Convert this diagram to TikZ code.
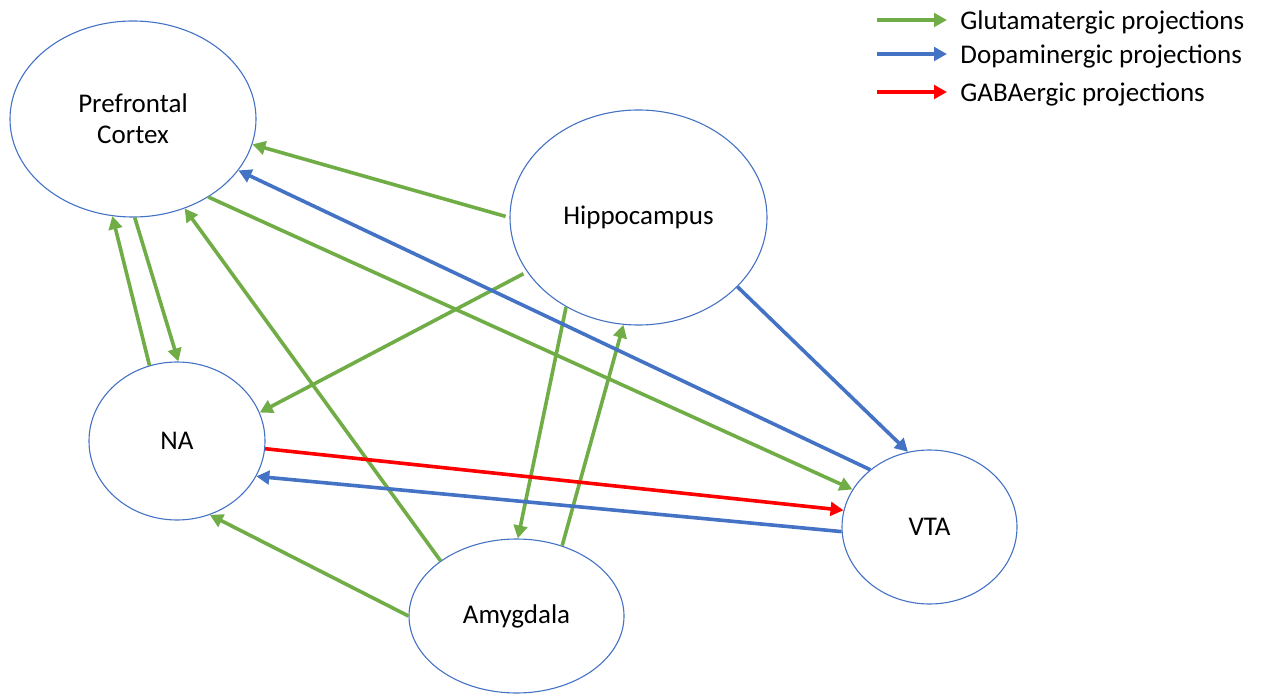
\documentclass[tikz,border=0pt]{standalone}
\usepackage{fontspec}
\setmainfont{Carlito}
\usepackage{xcolor}
\usetikzlibrary{arrows.meta,positioning,shapes.geometric}
\definecolor{glu}{RGB}{112,173,71}
\definecolor{dop}{RGB}{68,114,196}
\definecolor{gab}{RGB}{255,0,0}
\tikzset{
  bx/.style={x=0.5pt, y=-0.5pt, font=\fontsize{13.5}{15.5}\selectfont},
  b area/.style={draw=dop, line width=0.55pt, ellipse, inner sep=0pt, align=center},
  p arr/.style={line width=1.8pt, -{Triangle[length=6.5pt, width=6.8pt]}},
  p glu/.style={p arr, glu},
  p dop/.style={p arr, dop},
  p gab/.style={p arr, gab},
  k text/.style={anchor=west, inner sep=0pt},
}
\begin{document}
\begin{tikzpicture}[bx]
\useasboundingbox (0,0) rectangle (1261,694);
% brain areas
\node[b area, minimum width=123pt, minimum height=98pt] (pfc) at (133,119) {Prefrontal\\Cortex};
\node[b area, minimum width=128.5pt, minimum height=107.5pt] (hip) at (638.5,217.5) {Hippocampus};
\node[b area, minimum width=88pt, minimum height=79pt] (na) at (177,441) {NA};
\node[b area, minimum width=87.5pt, minimum height=77pt] (vta) at (929.5,527) {VTA};
\node[b area, minimum width=107.5pt, minimum height=77pt] (amy) at (516.5,616) {Amygdala};
% glutamatergic
\draw[p glu, shorten <=2pt] (hip.180) -- (pfc.-12);
\draw[p glu, shorten <=2pt] (hip.206) -- (na.19);
\draw[p glu] (pfc.-46) -- (vta.154);
\draw[p glu] (pfc.-89) -- (na.89);
\draw[p glu] (na.110) -- (pfc.-102);
\draw[p glu] (amy.144) -- (pfc.-60);
\draw[p glu] (amy.180) -- (na.-66);
\draw[p glu] (hip.231) -- (amy.89);
\draw[p glu] (amy.57) -- (hip.262);
% dopaminergic
\draw[p dop] (vta.136) -- (pfc.-26);
\draw[p dop] (hip.-35) -- (vta.106);
\draw[p dop] (vta.183) -- (na.-24);
% gabaergic
\draw[p gab] (na.-5) -- (vta.169);
% legend
\node[k text] (lg1) at (960,22) {Glutamatergic projections};
\node[k text] (lg2) at (960,56) {Dopaminergic projections};
\node[k text] (lg3) at (960,94) {GABAergic projections};
\coordinate (l1) at (877,20); \coordinate (l2) at (877,54); \coordinate (l3) at (877,92);
\draw[p glu] (l1) -- ([xshift=-6.5pt,yshift=1pt]lg1.west);
\draw[p dop] (l2) -- ([xshift=-6.5pt,yshift=1pt]lg2.west);
\draw[p gab] (l3) -- ([xshift=-6.5pt,yshift=1pt]lg3.west);
\end{tikzpicture}
\end{document}
